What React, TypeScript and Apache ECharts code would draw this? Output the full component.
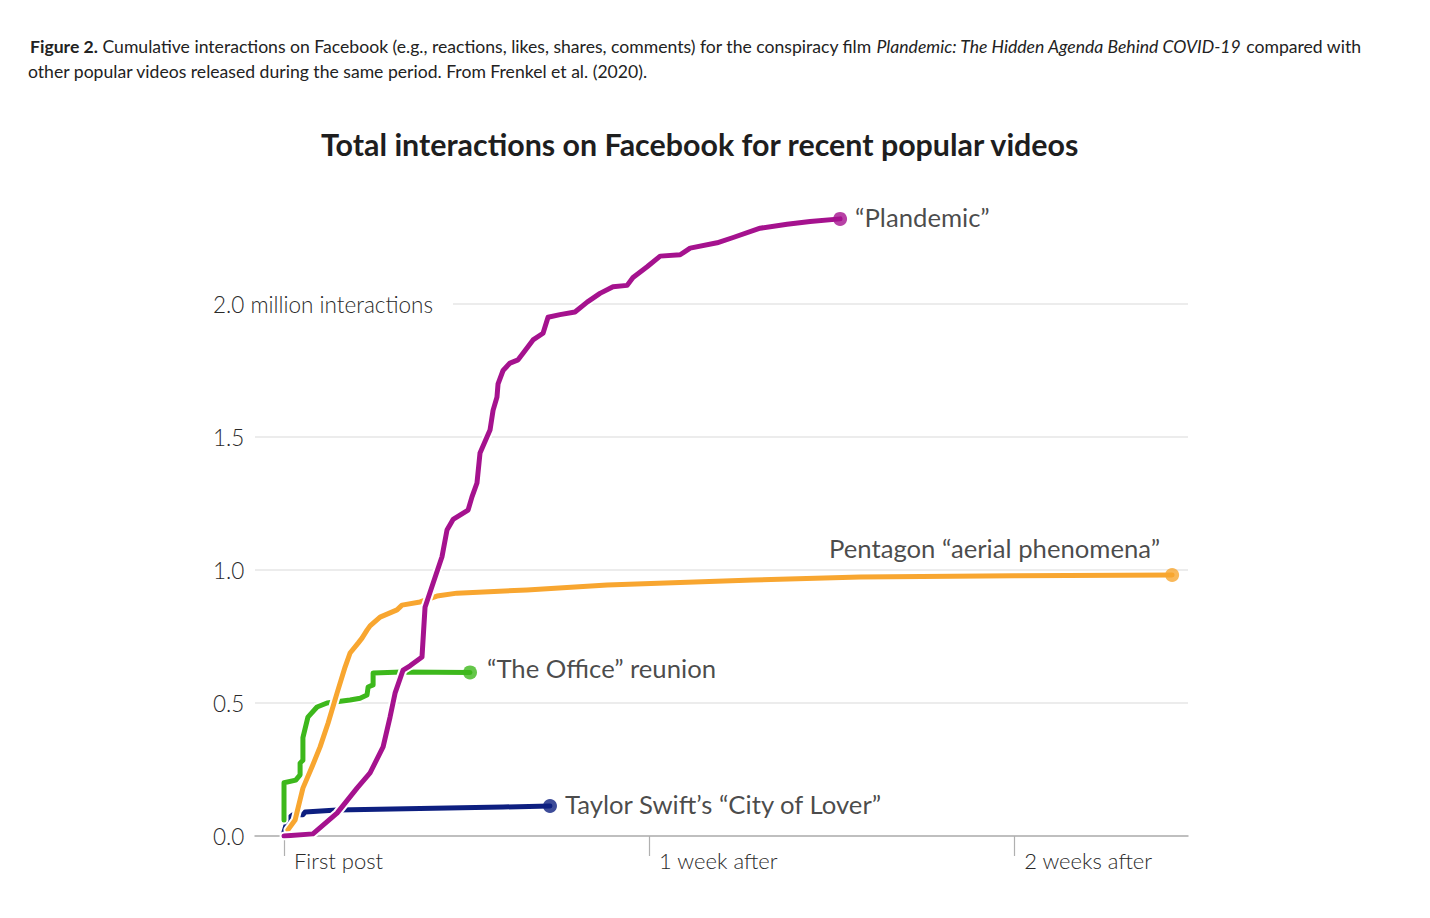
import { useEffect, useRef } from "react";
import * as echarts from "echarts";

// x values: hours after first post; y values: millions of interactions
const plandemicHours = [0, 13.3, 24.4, 33.6, 39.6, 45.6, 48.8, 51.1, 54.8, 58.0, 63.5, 64.9, 68.6, 72.7, 75.0, 77.8, 84.7, 86.5, 88.8, 90.2, 93.4, 94.8, 96.2, 98.0, 98.5, 100.8, 104.0, 107.7, 110.0, 114.6, 119.2, 121.5, 127.0, 133.9, 139.5, 145.4, 151.4, 157.9, 160.6, 167.1, 173.1, 182.3, 186.9, 199.3, 206.7, 219.1, 231.5, 242.1, 255.9];
const plandemicValues = [0, 0.008, 0.086, 0.18, 0.237, 0.335, 0.447, 0.537, 0.624, 0.64, 0.673, 0.86, 0.95, 1.05, 1.15, 1.19, 1.225, 1.275, 1.327, 1.44, 1.5, 1.526, 1.6, 1.65, 1.7, 1.75, 1.778, 1.79, 1.815, 1.865, 1.89, 1.95, 1.96, 1.97, 2.007, 2.04, 2.065, 2.07, 2.1, 2.14, 2.18, 2.185, 2.21, 2.23, 2.25, 2.285, 2.3, 2.31, 2.32];

const pentagonHours = [1.8, 5.1, 8.7, 12.9, 16.6, 20.3, 24.4, 28.1, 30.4, 34.1, 35.9, 38.2, 39.6, 44.2, 52.0, 54.3, 62.6, 70.4, 79.6, 111.8, 148.7, 215.9, 265.1, 336.0, 408.7];
const pentagonValues = [0.023, 0.06, 0.18, 0.26, 0.335, 0.425, 0.537, 0.635, 0.688, 0.725, 0.744, 0.774, 0.79, 0.823, 0.85, 0.868, 0.88, 0.902, 0.913, 0.925, 0.944, 0.962, 0.974, 0.978, 0.981];

const officeHours = [0, 0, 5.4, 7.4, 7.4, 8.7, 8.7, 11.0, 15.2, 19.8, 30.4, 35.0, 38.2, 38.7, 41.0, 41.0, 54.3, 85.6];
const officeValues = [0.06, 0.2, 0.21, 0.23, 0.274, 0.285, 0.37, 0.447, 0.485, 0.5, 0.511, 0.518, 0.53, 0.56, 0.568, 0.613, 0.617, 0.615];

const taylorHours = [0, 1.8, 4.1, 8.7, 9.7, 24.4, 100.8, 122.4];
const taylorValues = [0.015, 0.065, 0.08, 0.08, 0.09, 0.098, 0.109, 0.113];

const seriesNames = ["“Plandemic”", "Pentagon “aerial phenomena”", "“The Office” reunion", "Taylor Swift’s “City of Lover”"];
const seriesColors = ["#a5128e", "#f8a630", "#3db81c", "#0d1f80"];

const xTickHours = [0, 168, 336];
const xTickLabels = ["First post", "1 week after", "2 weeks after"];
const yTickValues = [0, 0.5, 1.0, 1.5, 2.0];
const yTickLabels = ["0.0", "0.5", "1.0", "1.5", "2.0 million interactions"];

const titleText = "Total interactions on Facebook for recent popular videos";
const captionLine1 = "{b|Figure 2.} Cumulative interactions on Facebook (e.g., reactions, likes, shares, comments) for the conspiracy film {i|Plandemic: The Hidden Agenda Behind COVID-19} compared with";
const captionLine2 = "other popular videos released during the same period. From Frenkel et al. (2020).";

const zip = (xs: number[], ys: number[]) => xs.map((x, i) => [x, ys[i]]);

export default function App() {
  const ref = useRef<HTMLDivElement>(null);
  useEffect(() => {
    if (!ref.current) return;
    const chart = echarts.init(ref.current, undefined, { renderer: "svg" });
    const datasets = [
      zip(plandemicHours, plandemicValues),
      zip(pentagonHours, pentagonValues),
      zip(officeHours, officeValues),
      zip(taylorHours, taylorValues),
    ];
    const drawOrder = [3, 2, 1, 0];
    const lineSeries: any[] = [];
    drawOrder.forEach((idx) => {
      lineSeries.push({
        type: "line",
        name: seriesNames[idx] + " halo",
        data: datasets[idx],
        showSymbol: false,
        symbol: "none",
        silent: true,
        lineStyle: { color: "#ffffff", width: 9, cap: "round", join: "round" },
      });
      lineSeries.push({
        type: "line",
        name: seriesNames[idx],
        data: datasets[idx],
        showSymbol: false,
        symbol: "none",
        lineStyle: { color: seriesColors[idx], width: 5, cap: "round", join: "round" },
      });
    });
    const labelCfg = [
      { position: "right", distance: 8, offset: [0, -2] },
      { position: "left", distance: 5, offset: [0, -27] },
      { position: "right", distance: 10, offset: [0, -4] },
      { position: "right", distance: 8, offset: [0, -2] },
    ];
    const endPoints = datasets.map((d, i) => ({
      value: d[d.length - 1],
      itemStyle: { color: seriesColors[i] },
      label: {
        show: true,
        formatter: seriesNames[i],
        position: labelCfg[i].position,
        distance: labelCfg[i].distance,
        offset: labelCfg[i].offset,
      },
    }));

    const capFont = "17.6px Lato";
    chart.setOption({
      animation: false,
      backgroundColor: "#ffffff",
      title: {
        text: titleText,
        left: 316,
        top: 124,
        textStyle: { fontFamily: "Lato", fontWeight: "bold", fontSize: 30.4, color: "#1e1e1e" },
      },
      graphic: [
        {
          type: "text",
          left: 30,
          top: 37,
          style: {
            text: captionLine1,
            font: capFont,
            fill: "#222",
            rich: {
              b: { font: "bold " + capFont, fill: "#222" },
              i: { font: "italic " + capFont, fill: "#222" },
            },
          },
        },
        {
          type: "text",
          left: 28,
          top: 62,
          style: { text: captionLine2, font: capFont, fill: "#222" },
        },
      ],
      grid: { left: 255, right: 242, top: 197.6, bottom: 82, containLabel: false },
      xAxis: {
        type: "value",
        min: -13.35,
        max: 416,
        axisLine: { show: true, lineStyle: { color: "#b0b0b0", width: 1.5 } },
        axisTick: { show: true, customValues: xTickHours, length: 20, lineStyle: { color: "#b0b0b0", width: 1.2 } },
        axisLabel: {
          customValues: xTickHours,
          formatter: (v: number) => xTickLabels[xTickHours.indexOf(v)] ?? "",
          align: "left",
          padding: [0, 0, 0, 10],
          margin: 13,
          fontFamily: "Lato",
          fontWeight: 300,
          fontSize: 22,
          color: "#2a2a2a",
        },
        splitLine: { show: false },
      },
      yAxis: {
        type: "value",
        min: 0,
        max: 2.4,
        interval: 0.5,
        axisLine: { show: false },
        axisTick: { show: false },
        axisLabel: {
          showMaxLabel: false,
          align: "left",
          margin: 42,
          fontFamily: "Lato",
          fontWeight: 300,
          fontSize: 22.5,
          color: "#2a2a2a",
          formatter: (v: number) => {
            const i = yTickValues.findIndex((t) => Math.abs(t - v) < 1e-6);
            if (i < 0) return "";
            return i === yTickValues.length - 1 ? "{w|" + yTickLabels[i] + "}" : yTickLabels[i];
          },
          rich: {
            w: { backgroundColor: "#ffffff", padding: [3, 20, 3, 0], fontFamily: "Lato", fontWeight: 300, fontSize: 22.5, color: "#2a2a2a" },
          },
        },
        splitLine: { show: true, showMaxLine: false, lineStyle: { color: "#e6e6e6", width: 1.5 } },
      },
      series: [
        ...lineSeries,
        {
          type: "scatter",
          name: "end points",
          data: endPoints,
          symbol: "circle",
          symbolSize: 14,
          z: 5,
          label: { fontFamily: "Lato", fontSize: 25.7, color: "#1a1a1a" },
        },
      ],
    });
    return () => chart.dispose();
  }, []);
  return (
    <div
      ref={ref}
      style={{ position: "absolute", left: 0, top: 0, width: 1430, height: 918, background: "#fff" }}
    />
  );
}
